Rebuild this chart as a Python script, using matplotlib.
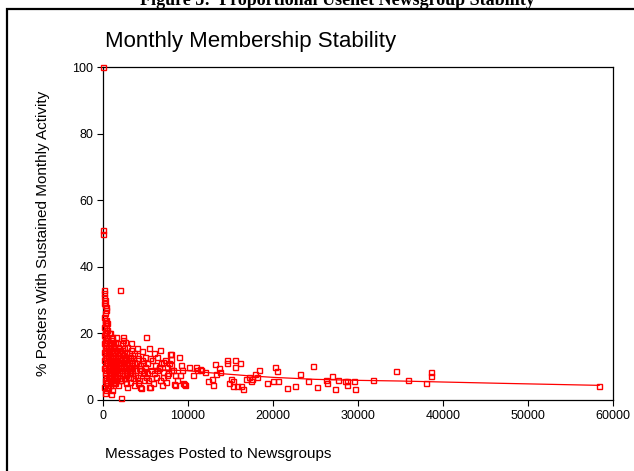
"""
plot.py
-------
Scatter of newsgroup size vs. share of posters with sustained monthly
activity, with the smoothed fit line drawn over it.

Output: out.png (634 x 471 px)
"""

import matplotlib

matplotlib.use("Agg")
import matplotlib.pyplot as plt
from matplotlib.patches import Rectangle

# ── Data ──────────────────────────────────────────────────────────────────────

# groups sitting on the y axis (x ~ 0-400 messages)
msgs_axis = [0, 50, 50, 100, 150, 100, 200, 150, 250, 300,
             200, 100, 300, 250, 150, 350, 200, 100, 300, 250,
             400, 150, 350, 200, 100, 300, 250, 400, 150, 350,
             200, 100, 300, 250, 400, 200, 300, 150, 350, 250]
pct_axis = [100, 51, 50, 33, 32, 31, 30, 29, 28.5, 28,
            26, 25, 24, 23, 22, 21, 20, 19.5, 19, 18,
            17.5, 17, 16, 15, 14.5, 14, 13, 12.5, 12, 11,
            10, 9.5, 9, 8, 7, 6, 5, 4, 3, 2]

# small groups, 400-1500 messages
msgs_small = [450, 500, 550, 600, 650, 700, 750, 800, 850, 900,
              950, 1000, 1050, 1100, 1150, 1200, 1250, 1300, 1350, 1400,
              480, 560, 620, 700, 780, 860, 940, 1020, 1100, 1180,
              1260, 1340, 1420, 1500, 520, 640, 760, 880, 1000, 1120,
              1240, 1360, 1480, 430, 900, 1410, 600, 800, 1000, 1200]
pct_small = [21, 18, 16, 14, 12, 10, 9, 8, 7, 6,
             17, 15, 13, 11, 9.5, 8.5, 7.5, 6.5, 5.5, 12,
             19, 15.5, 12.5, 11, 10.5, 13.5, 8, 10, 14, 11.5,
             9, 16, 7, 10.5, 5.5, 7, 6.5, 4.5, 19, 5,
             12, 13.5, 15, 4, 1.8, 5, 3.5, 20, 3, 17]

# extra fill of the dense blob, 200-3500 messages
msgs_blob = [200, 300, 400, 250, 350, 450, 550, 650, 750, 850,
             950, 1050, 1150, 1250, 1350, 1450, 330, 420, 580, 720,
             870, 1010, 1160, 1310, 1460, 1620, 1780, 1940, 2100, 2260,
             2420, 2580, 2740, 2900, 3060, 3220, 3380, 620, 780, 940,
             1090, 1240, 1390, 1540, 1690, 1840, 1990, 2140, 2290, 2440,
             2590, 2740, 2890, 3040, 3190, 3340, 3490, 500, 680, 1130]
pct_blob = [24, 27, 22.5, 16.5, 13.5, 11.5, 9.5, 8.5, 15, 11,
            12, 9, 16.5, 14, 10, 8, 20.5, 18.5, 13, 17,
            15.5, 6, 13, 11, 17, 7.5, 13.5, 14, 10.5, 9,
            15.5, 12, 7.5, 10, 14, 8.5, 11, 9, 12, 7.5,
            18, 15.5, 9, 12, 17, 6.5, 15, 11, 13.5, 6.5,
            17.5, 13, 9.5, 11.5, 7, 9.5, 12.5, 23, 20, 6]

# 1500-3000 messages
msgs_low = [1550, 1600, 1650, 1700, 1750, 1800, 1850, 1900, 1950, 2000,
            2050, 2100, 2150, 2200, 2250, 2300, 2350, 2400, 2450, 2500,
            2550, 2600, 2650, 2700, 2750, 2800, 2850, 2900, 2950, 3000,
            1580, 1720, 1860, 2000, 2120, 2260, 2390, 2520, 2680, 2840]
pct_low = [9, 14, 7, 12, 10, 16, 8.5, 11, 6, 33,
           13, 0.5, 9.5, 15, 7.5, 11.5, 18, 19, 8, 12.5,
           6.5, 10, 14.5, 9, 5, 16, 11, 7, 13, 8,
           19, 4.5, 12, 10.5, 6, 17, 13.5, 9, 11, 4]

# 3000-5000 messages
msgs_mid = [3100, 3180, 3260, 3350, 3450, 3570, 3650, 3750, 3850, 3960,
            4050, 4150, 4250, 4350, 4430, 4550, 4650, 4750, 4850, 4950,
            3200, 3400, 3600, 3800, 4000, 4200, 4400, 4600, 4800, 5000,
            3300, 3700, 4100, 4500, 4900]
pct_mid = [10, 5.5, 17, 12, 8, 6.5, 14, 9, 11, 15.6,
           7, 12.5, 9.5, 3.8, 3.6, 14.6, 8, 11, 6, 10,
           13, 9, 11.5, 7.5, 13.5, 6, 10.5, 12, 8.5, 7,
           15, 4.5, 5, 9, 13]

# 5000-8000 messages
msgs_upper = [5060, 5200, 5330, 5410, 5450, 5530, 5650, 5800, 5950, 6100,
              6250, 6400, 6550, 6700, 6700, 6850, 7000, 7090, 7250, 7400,
              7550, 7700, 7880, 8000, 5150, 5500, 5900, 6300, 6600, 7100,
              7500, 7800, 6050, 6900, 5700]
pct_upper = [19, 11, 6, 4, 15.6, 3.8, 9, 12, 8, 10.5,
             7, 13, 9.5, 14.9, 6, 11, 8.5, 7, 12, 5.5,
             10, 8, 13.9, 9, 8, 12.5, 5, 9, 10, 11.5,
             7.5, 11, 14, 4.5, 6.5]

# 8000-11500 messages
msgs_large = [8030, 8030, 8030, 8270, 8430, 8430, 8670, 8970, 9140, 9290,
              9060, 9450, 9610, 10080, 10550, 10940, 11090, 11410, 8390, 9560]
pct_large = [13.9, 12.3, 10.5, 9.0, 7.5, 4.5, 6.0, 13.0, 10.5, 9.0,
             7.5, 5.2, 4.5, 9.9, 7.5, 9.9, 9.0, 9.2, 4.7, 4.7]

# the sparse tail
msgs_tail = [11490, 11960, 12350, 12820, 12970, 13130, 13290, 13680, 13760, 14550,
             14550, 14780, 15020, 15250, 15330, 15490, 15490, 15800, 16110, 16270,
             16500, 16820, 17130, 17440, 17520, 17840, 18080, 18380, 19250, 19960,
             20270, 20430, 20580, 21600, 22540, 23170, 24110, 24730, 25130, 26220,
             26300, 26930, 27250, 27640, 28500, 28660, 28740, 29520, 29680, 31800,
             34420, 35870, 38020, 38610, 38610, 58370]
pct_tail = [9.0, 8.4, 5.6, 6.4, 4.6, 10.7, 7.8, 9.5, 8.3, 12.0,
            11.2, 5.0, 6.4, 4.2, 5.6, 12.0, 10.0, 4.2, 11.1, 4.2,
            3.4, 6.4, 6.8, 5.6, 6.4, 7.8, 6.8, 9.0, 5.0, 5.6,
            10.0, 8.8, 5.6, 3.7, 4.2, 7.8, 5.6, 10.3, 3.8, 6.0,
            5.2, 7.2, 3.4, 6.0, 5.6, 4.6, 5.6, 5.6, 3.4, 6.0,
            8.8, 5.9, 5.2, 8.5, 7.3, 4.2]

# smoothed fit line
fit_x = [0, 500, 1000, 2000, 3000, 5000, 7500, 10000, 12000, 14000,
         17000, 20000, 25000, 30000, 35000, 40000, 47000, 58370]
fit_y = [16, 14, 12.5, 11, 10, 9.2, 9.0, 8.8, 8.3, 7.9,
         7.3, 6.8, 6.2, 5.9, 5.7, 5.4, 5.0, 4.4]

X_TICKS = [0, 10000, 20000, 30000, 40000, 50000, 60000]
Y_TICKS = [0, 20, 40, 60, 80, 100]

RED = "#ff0000"

# ── Figure ────────────────────────────────────────────────────────────────────

plt.rcParams["font.family"] = ["Liberation Sans", "DejaVu Sans"]

W, H = 634, 471
fig = plt.figure(figsize=(W / 100, H / 100), dpi=100)
fig.patch.set_facecolor("white")

# outer frame of the figure box (runs off the right and bottom edges)
fig.add_artist(Rectangle((7 / W, -0.05), 1.1, 1 - 9 / H + 0.05,
                         transform=fig.transFigure, fill=False,
                         edgecolor="black", linewidth=1.6))

# page caption above the box, cut by the top edge as in the source
fig.text(337 / W, 1 - 5 / H, "Figure 5:  Proportional Usenet Newsgroup Stability",
         family=["Liberation Serif", "DejaVu Serif"], fontweight="bold",
         fontsize=13, ha="center", va="baseline")

ax = fig.add_axes([103 / W, 71 / H, 510 / W, 333 / H])

all_x = (msgs_axis + msgs_small + msgs_blob + msgs_low + msgs_mid
         + msgs_upper + msgs_large + msgs_tail)
all_y = (pct_axis + pct_small + pct_blob + pct_low + pct_mid
         + pct_upper + pct_large + pct_tail)

ax.plot(fit_x, fit_y, color=RED, linewidth=0.9, zorder=2)
ax.plot(all_x, all_y, linestyle="none", marker="s", markersize=3.6,
        markerfacecolor="none", markeredgecolor=RED, markeredgewidth=1.0,
        clip_on=False, zorder=3)

ax.set_xlim(0, 60000)
ax.set_ylim(0, 100)
ax.set_xticks(X_TICKS)
ax.set_yticks(Y_TICKS)
ax.tick_params(direction="out", length=4, width=0.8, labelsize=9, pad=3)
for spine in ax.spines.values():
    spine.set_linewidth(0.9)

fig.text(105 / W, 1 - 47 / H, "Monthly Membership Stability",
         fontsize=16, ha="left", va="baseline")
fig.text(105 / W, 1 - 454 / H, "Messages Posted to Newsgroups",
         fontsize=11, ha="left", va="center")
fig.text(43 / W, 1 - 233 / H, "% Posters With Sustained Monthly Activity",
         fontsize=11, rotation=90, ha="center", va="center")

fig.savefig("out.png", dpi=100)
